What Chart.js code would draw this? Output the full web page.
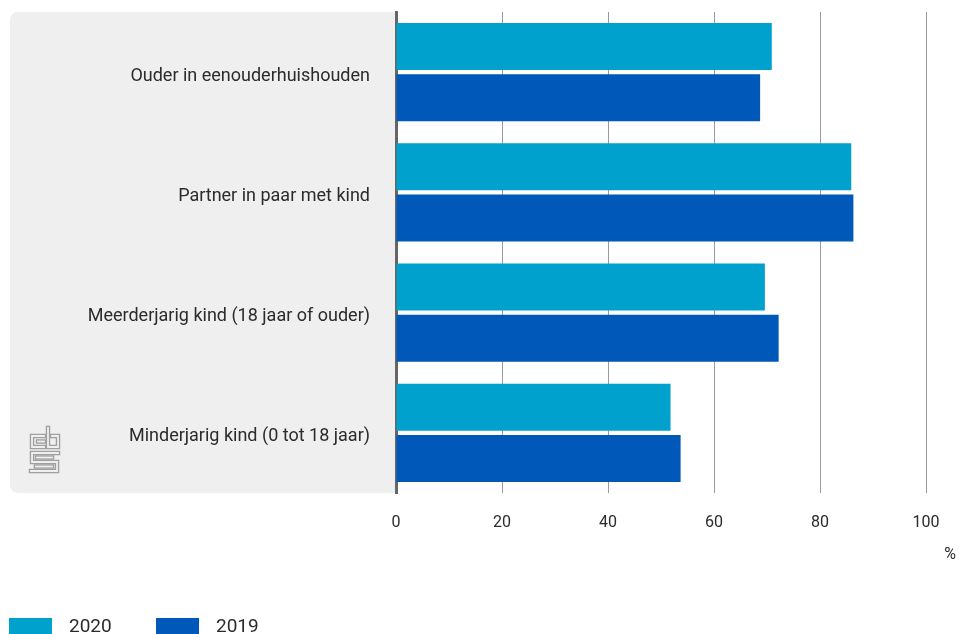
<!DOCTYPE html>
<html lang="nl">
<head>
    <meta charset="UTF-8">
    <title>Ouders en kinderen</title>
    <style>
        html, body { margin: 0; padding: 0; background: #fff; }
        canvas { display: block; }
    </style>
</head>
<body>
    <canvas id="bar-chart" width="959" height="634"></canvas>
    <script src="https://cdn.jsdelivr.net/npm/chart.js@4/dist/chart.umd.min.js"></script>
    <script>
        // Data
        const categories = [
            'Ouder in eenouderhuishouden',
            'Partner in paar met kind',
            'Meerderjarig kind (18 jaar of ouder)',
            'Minderjarig kind (0 tot 18 jaar)'
        ];
        const values2020 = [70.9, 85.9, 69.6, 51.8];
        const values2019 = [68.7, 86.3, 72.2, 53.7];
        const seriesLabels = ['2020', '2019'];
        const xTicks = [0, 20, 40, 60, 80, 100];

        const FONT = 'Roboto, "Noto Sans", sans-serif';
        const TEXT = '#2b2b2b';

        // Grey panel behind the category labels
        const panelPlugin = {
            id: 'panel',
            beforeDraw(chart) {
                const ctx = chart.ctx;
                const area = chart.chartArea;
                const x0 = 10, r = 8;
                ctx.save();
                ctx.fillStyle = '#efefef';
                ctx.beginPath();
                ctx.moveTo(area.left, area.top);
                ctx.lineTo(x0 + r, area.top);
                ctx.arcTo(x0, area.top, x0, area.top + r, r);
                ctx.lineTo(x0, area.bottom - r);
                ctx.arcTo(x0, area.bottom, x0 + r, area.bottom, r);
                ctx.lineTo(area.left, area.bottom);
                ctx.closePath();
                ctx.fill();
                ctx.restore();
            }
        };

        // Logo, unit label and legend
        const extrasPlugin = {
            id: 'extras',
            afterDraw(chart) {
                const ctx = chart.ctx;
                ctx.save();

                // cbs logo as an outlined path
                const logo = [
                    [[44, 436], [32, 436], [32, 447], [44, 447]],
                    [[44, 441.5], [38, 441.5]],
                    [[48, 428], [48, 447], [58, 447], [58, 436], [52, 436]],
                    [[58, 453], [32, 453], [32, 462], [57, 462], [57, 471], [31, 471]],
                    [[37, 457.5], [52, 457.5]],
                    [[52, 466.5], [36, 466.5]]
                ];
                const strokeLogo = (w, c) => {
                    ctx.lineWidth = w;
                    ctx.strokeStyle = c;
                    ctx.lineJoin = 'miter';
                    ctx.lineCap = 'square';
                    logo.forEach(p => {
                        ctx.beginPath();
                        ctx.moveTo(p[0][0], p[0][1]);
                        p.slice(1).forEach(q => ctx.lineTo(q[0], q[1]));
                        ctx.stroke();
                    });
                };
                strokeLogo(4.5, '#a0a0a0');
                strokeLogo(1.8, '#efefef');

                // unit
                ctx.fillStyle = TEXT;
                ctx.font = '16px ' + FONT;
                ctx.textAlign = 'center';
                ctx.textBaseline = 'middle';
                ctx.fillText('%', 950, 555);

                // legend
                ctx.font = '19px ' + FONT;
                ctx.textAlign = 'left';
                const legendX = [9, 156];
                chart.data.datasets.forEach((ds, i) => {
                    ctx.fillStyle = ds.backgroundColor;
                    ctx.fillRect(legendX[i], 618, 43, 16);
                    ctx.fillStyle = TEXT;
                    ctx.fillText(ds.label, legendX[i] + 60, 627);
                });
                ctx.restore();
            }
        };

        new Chart(document.getElementById('bar-chart'), {
            type: 'bar',
            data: {
                labels: categories,
                datasets: [
                    {
                        label: seriesLabels[0],
                        data: values2020,
                        backgroundColor: '#00a1cd'
                    },
                    {
                        label: seriesLabels[1],
                        data: values2019,
                        backgroundColor: '#0058b8'
                    }
                ]
            },
            options: {
                indexAxis: 'y',
                responsive: false,
                animation: false,
                categoryPercentage: 0.85,
                barPercentage: 0.92,
                layout: { padding: { left: 0, right: 33, top: 12, bottom: 0 } },
                plugins: {
                    legend: { display: false },
                    tooltip: { enabled: false }
                },
                scales: {
                    x: {
                        min: 0,
                        max: 100,
                        afterBuildTicks: s => { s.ticks = xTicks.map(v => ({ value: v })); },
                        afterFit: s => {
                            s.height = 141;
                            s.paddingLeft = 0;
                            s.paddingRight = 0;
                        },
                        grid: {
                            color: '#9a9a9a',
                            lineWidth: 1,
                            drawTicks: false
                        },
                        border: { display: false },
                        ticks: {
                            color: TEXT,
                            font: { family: FONT, size: 16 },
                            padding: 20
                        }
                    },
                    y: {
                        afterFit: s => {
                            s.width = 396;
                            s.paddingTop = 0;
                            s.paddingBottom = 0;
                        },
                        grid: { display: false, drawTicks: false },
                        border: { display: true, color: '#666', width: 3 },
                        ticks: {
                            color: TEXT,
                            font: { family: FONT, size: 18 },
                            padding: 26,
                            labelOffset: 4
                        }
                    }
                }
            },
            plugins: [panelPlugin, extrasPlugin]
        });
    </script>
</body>
</html>
